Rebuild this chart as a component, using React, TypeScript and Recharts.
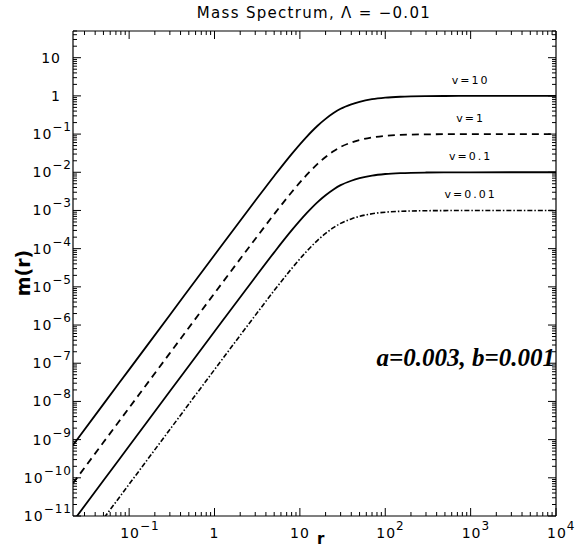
import React from "react";
import { LineChart, Line, XAxis, YAxis, ReferenceDot } from "recharts";

// radius values
const rValues = [
  0.022, 0.05, 0.1, 0.3, 1, 3, 5, 8, 12, 16, 20, 25, 30, 40, 50, 70, 100, 150,
  200, 300, 500, 1000, 3000, 10000,
];

// m(r) for each v
const massV10 = [
  7.2e-10, 8.5e-9, 6.8e-8, 1.84e-6, 6.8e-5, 1.79e-3, 8.0e-3, 0.03, 0.085,
  0.163, 0.25, 0.36, 0.46, 0.6, 0.7, 0.82, 0.9, 0.95, 0.97, 0.985, 0.993,
  0.998, 1.0, 1.0,
];
const massV1 = [
  7.2e-11, 8.5e-10, 6.8e-9, 1.84e-7, 6.8e-6, 1.79e-4, 8.0e-4, 3.0e-3, 8.5e-3,
  0.0163, 0.025, 0.036, 0.046, 0.06, 0.07, 0.082, 0.09, 0.095, 0.097, 0.0985,
  0.0993, 0.0998, 0.1, 0.1,
];
const massV01 = [
  7.2e-12, 8.5e-11, 6.8e-10, 1.84e-8, 6.8e-7, 1.79e-5, 8.0e-5, 3.0e-4, 8.5e-4,
  1.63e-3, 2.5e-3, 3.6e-3, 4.6e-3, 6.0e-3, 7.0e-3, 8.2e-3, 9.0e-3, 9.5e-3,
  9.7e-3, 9.85e-3, 9.93e-3, 9.98e-3, 0.01, 0.01,
];
const massV001 = [
  7.2e-13, 8.5e-12, 6.8e-11, 1.84e-9, 6.8e-8, 1.79e-6, 8.0e-6, 3.0e-5, 8.5e-5,
  1.63e-4, 2.5e-4, 3.6e-4, 4.6e-4, 6.0e-4, 7.0e-4, 8.2e-4, 9.0e-4, 9.5e-4,
  9.7e-4, 9.85e-4, 9.93e-4, 9.98e-4, 1.0e-3, 1.0e-3,
];

const seriesLabels = ["v=10", "v=1", "v=0.1", "v=0.01"];
const labelLevels = [1, 0.1, 0.01, 0.001];
const labelR = 1000;

const xDomain = [0.022, 10000];
const yDomain = [1e-11, 50];

const chartData = rValues.map((r, i) => ({
  r,
  v10: massV10[i],
  v1: massV1[i],
  v01: massV01[i],
  v001: massV001[i],
}));

// major + minor log ticks inside a range
function logTicks(lo: number, hi: number) {
  const out: number[] = [];
  for (let k = Math.floor(Math.log10(lo)); k <= Math.ceil(Math.log10(hi)); k++) {
    for (let m = 1; m <= 9; m++) {
      const v = Number((m * Math.pow(10, k)).toPrecision(6));
      if (v >= lo && v <= hi) out.push(v);
    }
  }
  return out;
}

const xTicks = logTicks(xDomain[0], xDomain[1]);
const yTicks = logTicks(yDomain[0], yDomain[1]);

const FONT = "DejaVu Sans, sans-serif";

function exponentOf(v: number) {
  return Math.round(Math.log10(v));
}
function isMajor(v: number) {
  const l = Math.log10(v);
  return Math.abs(l - Math.round(l)) < 1e-6;
}

function LeftTick({ x, y, payload }: any) {
  const v = payload.value;
  const major = isMajor(v);
  const e = exponentOf(v);
  return (
    <g>
      <line x1={x} x2={x + (major ? 8 : 4)} y1={y} y2={y} stroke="#000" strokeWidth={1} />
      {major && e >= 0 && (
        <text x={x - 12} y={y + 5} textAnchor="end" fontSize={14} fontFamily={FONT} letterSpacing={1} fill="#000">
          {e === 0 ? "1" : "10"}
        </text>
      )}
      {major && e < 0 && (
        <text x={x - 1} y={y + 5} textAnchor="end" fontSize={14} fontFamily={FONT} letterSpacing={1} fill="#000">
          10
          <tspan dy={-8} fontSize={12}>{`−${-e}`}</tspan>
        </text>
      )}
    </g>
  );
}

function RightTick({ x, y, payload }: any) {
  const major = isMajor(payload.value);
  return <line x1={x} x2={x - (major ? 8 : 4)} y1={y} y2={y} stroke="#000" strokeWidth={1} />;
}

function BottomTick({ x, y, payload }: any) {
  const v = payload.value;
  const major = isMajor(v);
  const e = exponentOf(v);
  return (
    <g>
      <line x1={x} x2={x} y1={y} y2={y - (major ? 8 : 4)} stroke="#000" strokeWidth={1} />
      {major && (
        <text x={x} y={y + 22} textAnchor={e === 0 || e === 1 ? "middle" : "start"} dx={e === 0 || e === 1 ? 0 : -9} fontSize={14} fontFamily={FONT} letterSpacing={1} fill="#000">
          {e === 0 ? "1" : "10"}
          {e !== 0 && e !== 1 && (
            <tspan dy={-8} fontSize={12}>{e < 0 ? `−${-e}` : `${e}`}</tspan>
          )}
        </text>
      )}
    </g>
  );
}

function TopTick({ x, y, payload }: any) {
  const major = isMajor(payload.value);
  return <line x1={x} x2={x} y1={y} y2={y + (major ? 8 : 4)} stroke="#000" strokeWidth={1} />;
}

export default function App() {
  return (
    <div style={{ position: "absolute", left: 0, top: 0, width: 584, height: 550, background: "#fff" }}>
      <LineChart
        width={584}
        height={550}
        data={chartData}
        margin={{ top: 21, right: 18, bottom: 0, left: 0 }}
      >
        <XAxis
          xAxisId="bottom"
          dataKey="r"
          type="number"
          scale="log"
          domain={xDomain}
          allowDataOverflow
          ticks={xTicks}
          interval={0}
          tickSize={0}
          tickMargin={0}
          tick={<BottomTick />}
          height={34}
          axisLine={{ stroke: "#000", strokeWidth: 1.2 }}
          tickLine={false}
        />
        <XAxis
          xAxisId="top"
          orientation="top"
          dataKey="r"
          type="number"
          scale="log"
          domain={xDomain}
          allowDataOverflow
          ticks={xTicks}
          interval={0}
          tickSize={0}
          tickMargin={0}
          tick={<TopTick />}
          height={10}
          axisLine={{ stroke: "#000", strokeWidth: 1.2 }}
          tickLine={false}
        />
        <YAxis
          yAxisId="left"
          type="number"
          scale="log"
          domain={yDomain}
          allowDataOverflow
          ticks={yTicks}
          interval={0}
          tickSize={0}
          tickMargin={0}
          tick={<LeftTick />}
          width={73}
          axisLine={{ stroke: "#000", strokeWidth: 1.2 }}
          tickLine={false}
        />
        <YAxis
          yAxisId="right"
          orientation="right"
          type="number"
          scale="log"
          domain={yDomain}
          allowDataOverflow
          ticks={yTicks}
          interval={0}
          tickSize={0}
          tickMargin={0}
          tick={<RightTick />}
          width={10}
          axisLine={{ stroke: "#000", strokeWidth: 1.2 }}
          tickLine={false}
        />
        <Line xAxisId="bottom" yAxisId="left" type="monotone" dataKey="v10" stroke="#000" strokeWidth={1.8} dot={false} isAnimationActive={false} />
        <Line xAxisId="bottom" yAxisId="left" type="monotone" dataKey="v1" stroke="#000" strokeWidth={1.8} strokeDasharray="7 5" dot={false} isAnimationActive={false} />
        <Line xAxisId="bottom" yAxisId="left" type="monotone" dataKey="v01" stroke="#000" strokeWidth={1.8} dot={false} isAnimationActive={false} />
        <Line xAxisId="bottom" yAxisId="left" type="monotone" dataKey="v001" stroke="#000" strokeWidth={1.6} strokeDasharray="5 2 1.5 2" dot={false} isAnimationActive={false} />
        {seriesLabels.map((s, i) => (
          <ReferenceDot
            key={s}
            xAxisId="bottom"
            yAxisId="left"
            x={labelR}
            y={labelLevels[i]}
            r={0}
            fill="none"
            stroke="none"
            label={{ value: s, position: "top", offset: 12, fontSize: 11, fontFamily: FONT, fill: "#000", letterSpacing: 2 }}
          />
        ))}
        <text x={314} y={18} textAnchor="middle" fontSize={15} fontFamily={FONT} letterSpacing={1.3} fill="#000">
          Mass Spectrum, Λ = −0.01
        </text>
        <text x={555} y={366} textAnchor="end" fontSize={25} fontFamily="Liberation Serif, Times New Roman, serif" fontWeight="bold" fontStyle="italic" fill="#000">
          a=0.003, b=0.001
        </text>
        <text x={317} y={544} fontSize={15} fontWeight="bold" fontFamily={FONT} fill="#000">
          r
        </text>
        <text x={30} y={273} transform="rotate(-90 30 273)" textAnchor="middle" fontSize={19} fontWeight="bold" fontFamily={FONT} fill="#000">
          m(r)
        </text>
      </LineChart>
    </div>
  );
}
